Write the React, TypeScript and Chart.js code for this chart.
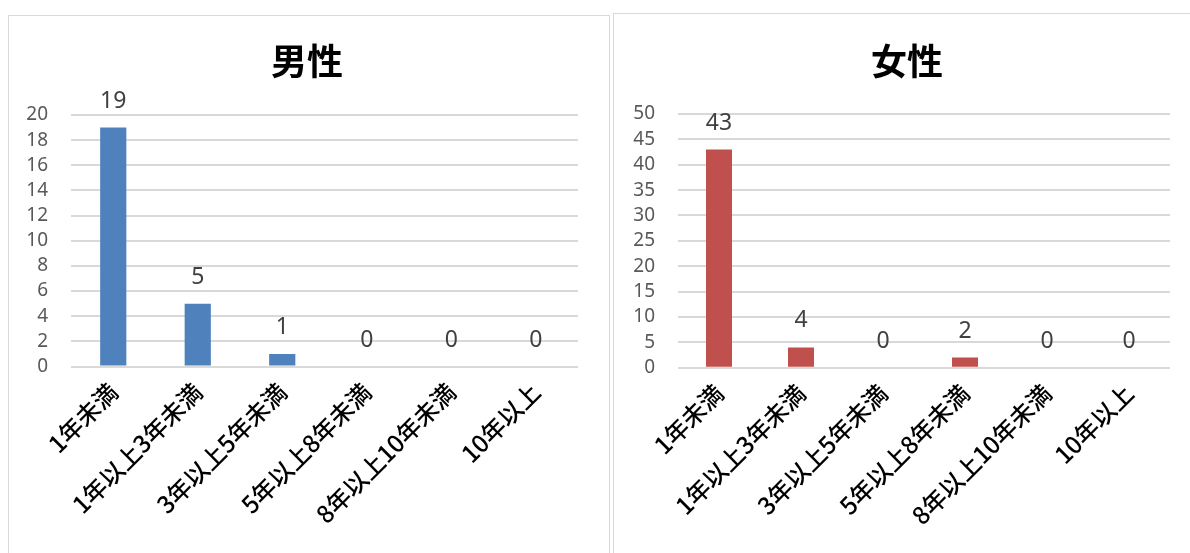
import React, { useEffect, useRef } from "react";
import { Chart, registerables } from "chart.js";

Chart.register(...registerables);

// ---- data ----
const categories = [
  "1年未満",
  "1年以上3年未満",
  "3年以上5年未満",
  "5年以上8年未満",
  "8年以上10年未満",
  "10年以上",
];
const maleTitle = "男性";
const femaleTitle = "女性";
const maleValues = [19, 5, 1, 0, 0, 0];
const femaleValues = [43, 4, 0, 2, 0, 0];
const maleAxisMax = 20;
const maleAxisStep = 2;
const femaleAxisMax = 50;
const femaleAxisStep = 5;

type Geo = {
  left: number;
  top: number;
  width: number;
  height: number;
  padTop: number;
  padRight: number;
  yWidth: number;
  xHeight: number;
  barPct: number;
  titleCx: number;
  titleCy: number;
  rightBorder: boolean;
};

const valueLabelPlugin = {
  id: "valueLabels",
  afterDatasetsDraw(chart: any) {
    const ctx = chart.ctx;
    const meta = chart.getDatasetMeta(0);
    const data = chart.data.datasets[0].data;
    ctx.save();
    ctx.font = '23px "Noto Sans", "Open Sans", sans-serif';
    ctx.fillStyle = "#404040";
    ctx.textAlign = "center";
    ctx.textBaseline = "alphabetic";
    meta.data.forEach((bar: any, i: number) => {
      ctx.fillText(String(data[i]), bar.x, bar.y - 20);
    });
    ctx.restore();
  },
};

function Panel(props: {
  title: string;
  values: number[];
  color: string;
  yMax: number;
  yStep: number;
  geo: Geo;
}) {
  const ref = useRef<HTMLCanvasElement>(null);
  const { geo } = props;
  useEffect(() => {
    if (!ref.current) return;
    const chart = new Chart(ref.current, {
      type: "bar",
      data: {
        labels: categories,
        datasets: [
          {
            data: props.values,
            backgroundColor: props.color,
            borderWidth: 0,
            categoryPercentage: 1,
            barPercentage: geo.barPct,
          },
        ],
      },
      options: {
        animation: false,
        responsive: false,
        maintainAspectRatio: false,
        layout: {
          padding: { left: 0, right: geo.padRight, top: geo.padTop, bottom: 0 },
        },
        plugins: {
          legend: { display: false },
          tooltip: { enabled: false },
          title: { display: false },
        },
        scales: {
          x: {
            grid: { display: false, drawTicks: false },
            border: { display: false },
            ticks: {
              autoSkip: false,
              maxRotation: 45,
              minRotation: 45,
              padding: 11,
              color: "#000000",
              font: { family: '"Noto Sans CJK JP", sans-serif', size: 24, weight: 500 },
            },
            afterFit: (s: any) => {
              s.height = geo.xHeight;
            },
          },
          y: {
            min: 0,
            max: props.yMax,
            grid: { color: "#d9d9d9", lineWidth: 2, drawTicks: false },
            border: { display: false },
            ticks: {
              autoSkip: false,
              stepSize: props.yStep,
              padding: 23,
              color: "#595959",
              font: { family: '"Noto Sans", sans-serif', size: 19 },
            },
            afterFit: (s: any) => {
              s.width = geo.yWidth;
            },
          },
        },
      },
      plugins: [valueLabelPlugin],
    });
    return () => chart.destroy();
  }, []);

  return (
    <div
      style={{
        position: "fixed",
        left: geo.left,
        top: geo.top,
        width: geo.width,
        height: geo.height,
        borderTop: "1px solid #d9d9d9",
        borderLeft: "1px solid #d9d9d9",
        borderRight: geo.rightBorder ? "1px solid #d9d9d9" : "none",
        background: "#ffffff",
        overflow: "hidden",
      }}
    >
      <canvas
        ref={ref}
        width={geo.width}
        height={geo.height}
        style={{ display: "block", width: geo.width, height: geo.height }}
      />
      <div
        style={{
          position: "absolute",
          left: geo.titleCx - 150,
          top: geo.titleCy - 21.6,
          width: 300,
          height: 43.2,
          lineHeight: "43.2px",
          textAlign: "center",
          fontFamily: '"Noto Sans CJK JP", sans-serif',
          fontWeight: "bold",
          fontSize: 36,
          color: "#000000",
        }}
      >
        {props.title}
      </div>
    </div>
  );
}

const leftGeo: Geo = {
  left: 8,
  top: 15,
  width: 600,
  height: 537,
  padTop: 99,
  padRight: 31,
  yWidth: 62,
  xHeight: 186.5,
  barPct: 0.31,
  titleCx: 298,
  titleCy: 44,
  rightBorder: true,
};

const rightGeo: Geo = {
  left: 613,
  top: 13,
  width: 576,
  height: 539,
  padTop: 100,
  padRight: 20,
  yWidth: 64,
  xHeight: 185.3,
  barPct: 0.317,
  titleCx: 293,
  titleCy: 46,
  rightBorder: false,
};

export default function App() {
  return (
    <div style={{ position: "relative", width: 1190, height: 553, background: "#fff" }}>
      <Panel
        title={maleTitle}
        values={maleValues}
        color="#4F81BD"
        yMax={maleAxisMax}
        yStep={maleAxisStep}
        geo={leftGeo}
      />
      <Panel
        title={femaleTitle}
        values={femaleValues}
        color="#C0504D"
        yMax={femaleAxisMax}
        yStep={femaleAxisStep}
        geo={rightGeo}
      />
    </div>
  );
}
